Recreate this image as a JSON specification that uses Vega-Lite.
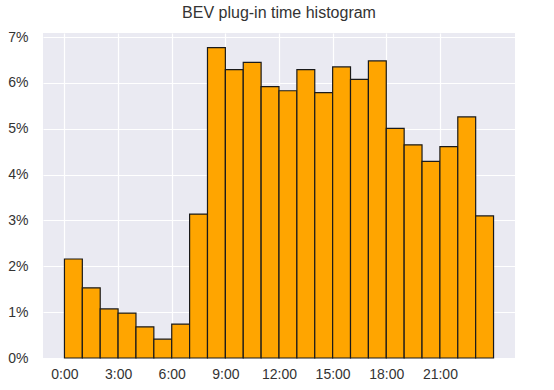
{
  "$schema": "https://vega.github.io/schema/vega-lite/v6.json",
  "autosize": "none",
  "width": 472,
  "height": 325,
  "padding": {"left": 43, "top": 33, "right": 39, "bottom": 32},
  "background": "white",
  "title": {"text": "BEV plug-in time histogram", "font": "Liberation Sans", "fontSize": 16, "fontWeight": "normal", "color": "#333333", "offset": 9},
  "data": {"values": [
    {"start": 0, "end": 1, "share": 0.0216},
    {"start": 1, "end": 2, "share": 0.0153},
    {"start": 2, "end": 3, "share": 0.0107},
    {"start": 3, "end": 4, "share": 0.0098},
    {"start": 4, "end": 5, "share": 0.0068},
    {"start": 5, "end": 6, "share": 0.0041},
    {"start": 6, "end": 7, "share": 0.0074},
    {"start": 7, "end": 8, "share": 0.0314},
    {"start": 8, "end": 9, "share": 0.0677},
    {"start": 9, "end": 10, "share": 0.0629},
    {"start": 10, "end": 11, "share": 0.0645},
    {"start": 11, "end": 12, "share": 0.0592},
    {"start": 12, "end": 13, "share": 0.0583},
    {"start": 13, "end": 14, "share": 0.0629},
    {"start": 14, "end": 15, "share": 0.0579},
    {"start": 15, "end": 16, "share": 0.0635},
    {"start": 16, "end": 17, "share": 0.0608},
    {"start": 17, "end": 18, "share": 0.0648},
    {"start": 18, "end": 19, "share": 0.0501},
    {"start": 19, "end": 20, "share": 0.0465},
    {"start": 20, "end": 21, "share": 0.0429},
    {"start": 21, "end": 22, "share": 0.0461},
    {"start": 22, "end": 23, "share": 0.0526},
    {"start": 23, "end": 24, "share": 0.0310}
  ]},
  "mark": {"type": "bar", "color": "#FFA500", "stroke": "#1a1a1a", "strokeWidth": 1.2},
  "encoding": {
    "x": {"field": "start", "type": "quantitative",
      "scale": {"domain": [-1.2, 25.2], "nice": false, "zero": false},
      "axis": {"title": null, "values": [0, 3, 6, 9, 12, 15, 18, 21], "labelExpr": "datum.value + ':00'",
        "domain": false, "ticks": false, "grid": true, "gridColor": "white", "gridWidth": 1.2,
        "labelFont": "Liberation Sans", "labelFontSize": 14, "labelColor": "#333333", "labelPadding": 9}},
    "x2": {"field": "end"},
    "y": {"field": "share", "type": "quantitative",
      "scale": {"domain": [0, 0.0709], "nice": false},
      "axis": {"title": null, "values": [0, 0.01, 0.02, 0.03, 0.04, 0.05, 0.06, 0.07], "format": ".0%",
        "domain": false, "ticks": false, "grid": true, "gridColor": "white", "gridWidth": 1.2,
        "labelFont": "Liberation Sans", "labelFontSize": 14, "labelColor": "#333333", "labelPadding": 15}},
    "y2": {"datum": 0}
  },
  "config": {"view": {"fill": "#EAEAF2", "stroke": null}}
}
